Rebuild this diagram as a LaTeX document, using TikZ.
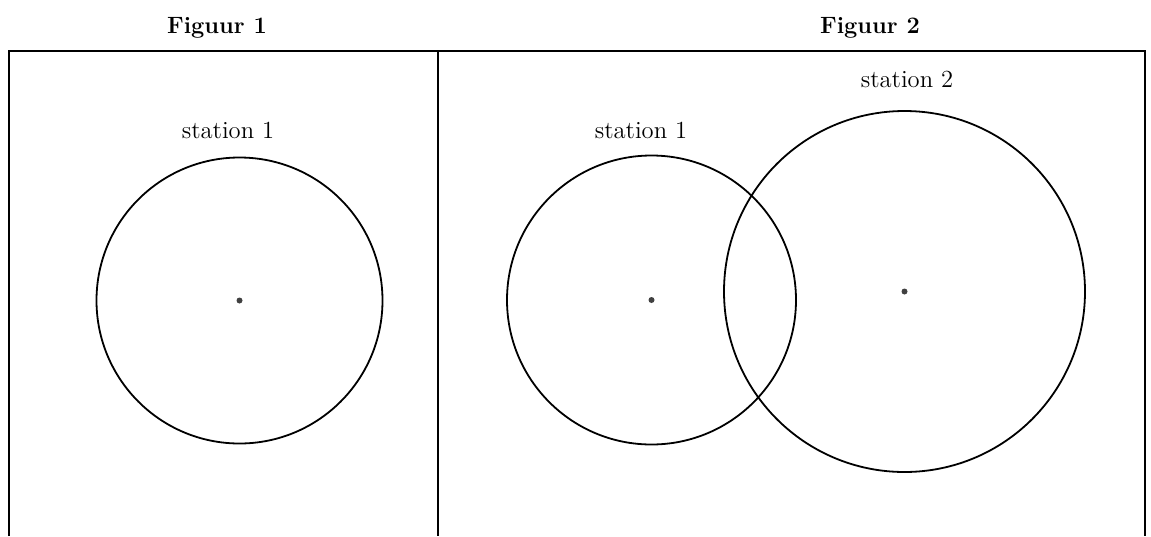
\documentclass[tikz,border=0pt]{standalone}
\begin{document}
\begin{tikzpicture}[x=0.5pt,y=-0.5pt,
  frame/.style={line width=1.2pt},
  ring/.style={draw,circle,line width=0.9pt,inner sep=0pt},
  centre/.style={circle,fill=black!75,inner sep=0pt,minimum size=3pt},
  title/.style={anchor=base,font=\fontsize{11.8}{14}\selectfont\bfseries,inner sep=0pt},
  lab/.style={anchor=base,font=\fontsize{12.3}{14}\selectfont,inner sep=0pt}]
\useasboundingbox (0,0) rectangle (1151,536);
% frame
\draw[frame] (9,536) -- (9,51) -- (1145,51) -- (1145,536);
\draw[frame] (438,51) -- (438,536);
% titles
\node[title] (t1) at (217,33) {Figuur 1};
\node[title] (t2) at (870,33) {Figuur 2};
% figure 1
\node[ring,minimum size=143pt] (c1) at (239.5,300.5) {};
\node[centre] (d1) at (239.5,300.5) {};
\node[lab] (l1) at (228,138) {station 1};
% figure 2
\node[ring,minimum size=144.5pt] (c2) at (651.5,300) {};
\node[centre] (d2) at (651.5,300) {};
\node[lab] (l2) at (641,138) {station 1};
\node[ring,minimum size=180.5pt] (c3) at (904.5,291.5) {};
\node[centre] (d3) at (904.5,291.5) {};
\node[lab] (l3) at (907,87) {station 2};
\end{tikzpicture}
\end{document}
